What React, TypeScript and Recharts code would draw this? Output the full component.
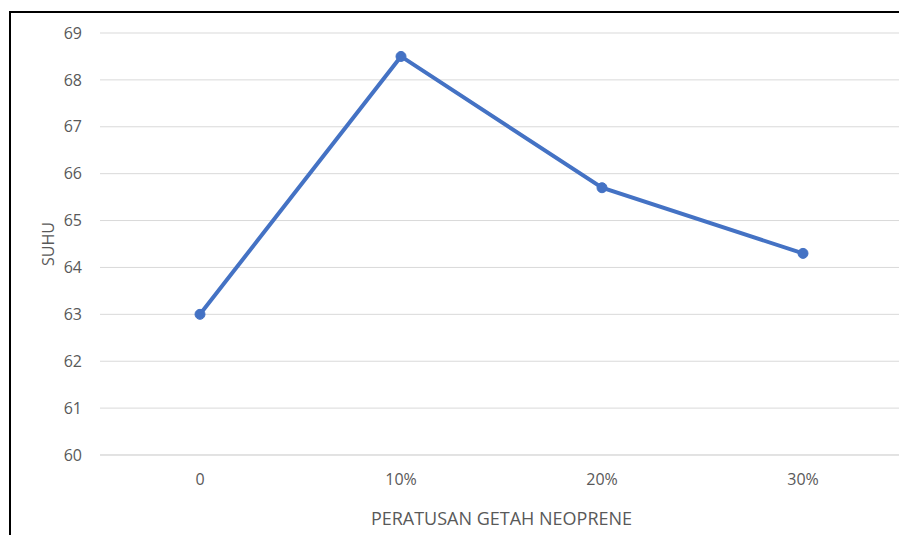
import { LineChart, Line, XAxis, YAxis, CartesianGrid } from 'recharts';

const categories = ['0', '10%', '20%', '30%'];
const suhu = [63, 68.5, 65.7, 64.3];
const yTicks = [60, 61, 62, 63, 64, 65, 66, 67, 68, 69];

const data = categories.map((c, i) => ({ name: c, suhu: suhu[i] }));

const FONT = '"Open Sans", "Noto Sans", sans-serif';
const TEXT = '#595959';
const BLUE = '#4472C4';

const App = () => {
	return (
		<div style={{ position: 'relative', width: 899, height: 527 }}>
			<div
				style={{
					position: 'absolute',
					left: 1,
					top: 3,
					right: 0,
					bottom: 0,
					borderLeft: '2px solid #000',
					borderTop: '2px solid #000',
				}}
			/>
			<LineChart
				width={899}
				height={527}
				data={data}
				margin={{ top: 25, right: 4, bottom: 0, left: 0 }}
				style={{ position: 'absolute', left: 0, top: 0, fontFamily: FONT }}>
				<CartesianGrid vertical={false} stroke="#d9d9d9" strokeWidth={1} />
				<XAxis
					dataKey="name"
					height={80}
					padding={{ left: 100, right: 100 }}
					axisLine={{ stroke: '#d9d9d9' }}
					tickLine={false}
					tickSize={0}
					tickMargin={19}
					tick={{ fill: TEXT, fontSize: 16 }}
					label={{
						value: 'PERATUSAN GETAH NEOPRENE',
						position: 'insideBottom',
						offset: 10,
						fill: TEXT,
						fontSize: 18,
					}}
				/>
				<YAxis
					width={92}
					domain={[60, 69]}
					ticks={yTicks}
					interval={0}
					axisLine={false}
					tickLine={false}
					tickSize={0}
					tickMargin={18}
					tick={{ fill: TEXT, fontSize: 16 }}
					label={{
						value: 'SUHU',
						angle: -90,
						position: 'center',
						dx: -6,
						fill: TEXT,
						fontSize: 16,
					}}
				/>
				<Line
					type="linear"
					dataKey="suhu"
					stroke={BLUE}
					strokeWidth={4}
					dot={{ r: 5, fill: BLUE, stroke: BLUE, strokeWidth: 1 }}
					isAnimationActive={false}
				/>
			</LineChart>
		</div>
	);
};

export default App;
